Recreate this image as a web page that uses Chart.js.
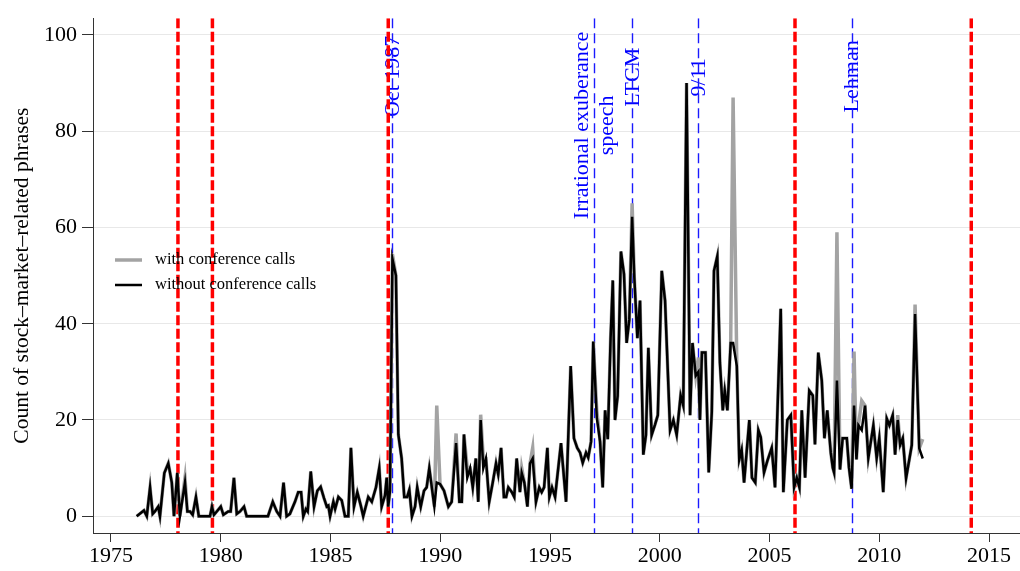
<!DOCTYPE html>
<html><head><meta charset="utf-8">
<script src="https://cdn.jsdelivr.net/npm/chart.js@4.4.1/dist/chart.umd.min.js"></script>
<style>html,body{margin:0;padding:0;background:#fff;}#wrap{width:1020px;height:571px;position:relative;}</style>
</head><body><div id="wrap"><canvas id="c" width="1020" height="571"></canvas></div>
<script>
// FOMC meeting dates (decimal years)
const dates = [
 1976.17,1976.50,1976.63,1976.78,1976.90,1977.00,1977.15,1977.23,1977.43,1977.61,1977.77,1977.87,1978.02,1978.14,1978.37,1978.48,1978.60,1978.72,1978.87,
 1979.00,1979.19,1979.51,1979.60,1979.69,1979.82,1980.00,1980.12,1980.34,1980.45,1980.60,1980.73,1980.88,1981.06,1981.18,1981.42,1981.79,1982.15,1982.37,1982.55,1982.70,1982.86,
 1983.00,1983.15,1983.38,1983.53,1983.66,1983.76,1983.88,1983.96,1984.10,1984.25,1984.40,1984.55,1984.70,1984.83,1984.90,1984.98,1985.13,1985.21,1985.36,1985.51,1985.66,1985.81,1985.93,
 1986.07,1986.22,1986.38,1986.49,1986.72,1986.88,1987.07,1987.22,1987.33,1987.48,1987.56,1987.63,1987.71,1987.82,1987.98,1988.09,1988.24,1988.36,1988.49,1988.59,1988.71,1988.85,1988.95,
 1989.11,1989.26,1989.38,1989.50,1989.73,1989.84,1989.99,1990.17,1990.37,1990.52,1990.72,1990.87,1990.98,1991.08,1991.23,1991.36,1991.48,1991.62,1991.73,1991.84,1991.96,
 1992.08,1992.23,1992.39,1992.54,1992.64,1992.77,1992.90,1993.00,1993.10,1993.26,1993.37,1993.48,1993.63,1993.71,1993.83,1993.97,1994.09,1994.21,1994.36,1994.51,1994.62,1994.73,1994.88,1994.97,
 1995.09,1995.23,1995.50,1995.73,1995.94,1996.09,1996.24,1996.37,1996.49,1996.64,1996.74,1996.87,1996.97,1997.13,1997.28,1997.40,1997.51,1997.63,1997.76,1997.86,1997.96,
 1998.08,1998.23,1998.37,1998.49,1998.61,1998.74,1998.84,1998.98,1999.10,1999.25,1999.37,1999.48,1999.63,1999.78,1999.91,2000.09,2000.24,2000.47,2000.62,2000.77,2000.95,
 2001.07,2001.22,2001.38,2001.49,2001.64,2001.76,2001.83,2001.92,2002.08,2002.23,2002.37,2002.47,2002.62,2002.74,2002.87,2002.96,2003.08,2003.23,2003.34,2003.51,2003.62,2003.73,2003.84,2003.96,
 2004.08,2004.20,2004.35,2004.49,2004.60,2004.75,2004.90,2005.10,2005.25,2005.51,2005.63,2005.81,2005.97,2006.12,2006.24,2006.36,2006.47,2006.62,2006.81,2006.97,
 2007.07,2007.22,2007.38,2007.50,2007.63,2007.79,2007.88,2007.94,2008.07,2008.21,2008.33,2008.52,2008.62,2008.74,2008.85,2008.96,2009.05,2009.20,2009.35,2009.50,2009.73,2009.88,
 2010.00,2010.18,2010.34,2010.46,2010.61,2010.72,2010.84,2010.95,2011.07,2011.22,2011.48,2011.63,2011.82,2011.98
];
const withoutCalls = [
 0,1.2,0,6,0.5,1,2,0,9,11,7,0,9,0,7,1,1,0.3,4,
 0,0,0,2,0.3,1,2,0.3,1,1,8,0.5,1,2,0,0,0,0,3,1,0,7,
 0,0.5,3,5,5,0,1.5,1,9.3,2,5.3,6.1,3.8,2,2.2,0,3,1.5,4,3.3,0,0,14.2,
 2,5,2.2,0,4,3,6,10,2,4.3,8,2,5.3,53.5,50,17,12,4,4,5.5,0,2,6,
 2,5.3,6,10,2,7,6.7,5.3,2,3,15.2,3,3,17,8,10,6,12,3,20,10,
 12,3,7,11,8.7,14.2,4,4,6,5,4,12,5,9,7,2,11,12,3,6,5,6,14.2,4,
 6,4,15.2,3,31.2,16.2,14.2,13.2,11.1,13.2,12.2,15.5,36.3,20.5,15.5,6,22,16,37,49,20,
 25,55,50.3,36,40.8,62.2,49.6,37,44.8,12.8,16.9,35,16.9,19,21,51,44.8,17.9,20,16.9,25.1,
 23,90,21,36,29.2,30,20,34,34,9.1,21.7,51,54,31.9,22,26.1,22,36,36,31.2,11.8,13.8,7,13.5,
 20,8,7,17.9,16.4,9.1,11.5,14.2,6,43.1,5,20,21,6,8,6,22,8,26.1,25.1,
 14.9,34,28.2,16.2,22,13.2,10.1,9.1,28.2,9.7,16.2,16.2,10.1,5.7,23,11.8,18.9,17.9,23,12.1,18.9,12.1,
 16.2,5,20.3,18.9,21,12.8,20,14.8,16.2,7.9,14.8,42,14.1,12
];
const withCalls = [
 0,1.2,0,6,0.5,1,2,0,9,11,7,0,9,0,8,1,1,0.3,4,
 0,0,0,2,0.3,1,2,0.3,1,1,8,0.5,1,2,0,0,0,0,3,1,0,7,
 0,0.5,3,5,5,0,1.5,1,9.3,2,5.3,6.1,3.8,2,2.2,0,3,1.5,4,3.3,0,0,14.2,
 2,5,2.2,0,4,3,6,10,2,4.3,8,2,5.3,54.5,50,17,12,4,4,5.5,0,2,6,
 2,5.3,6,10,2,23,6.7,5.3,2,3,17.2,3,3,17,10,10,6,12,3,21.1,12,
 12,3,7,11,8.7,14.2,4,4,6,5,4,12,5,10,7,2,11,14.2,3,6,5,6,14.2,4,
 6,4,15.2,3,31.2,16.2,14.2,13.2,11.1,13.2,12.2,15.5,36.3,22,15.5,6,22,16,37,49,20,
 25,55,50.3,36,40.8,65,49.6,37,44.8,12.8,16.9,35,16.9,19,21,51,44.8,17.9,20,16.9,25.1,
 23,90,21,36,29.2,33,20,34,34,9.1,21.7,51,54,31.9,22,26.1,22,36,87,31.2,11.8,13.8,7,13.5,
 20,8,7,17.9,16.4,9.1,11.5,14.2,6,43.1,5,20,21,6,8,6,22,8,26.1,25.1,
 14.9,34,28.2,16.2,22,13.2,10.1,9.1,59,9.7,16.2,16.2,10.1,5.7,34.2,11.8,18.9,24,23,12.1,18.9,12.1,
 16.2,5,20.3,18.9,21,12.8,21,14.8,16.2,7.9,14.8,44,14.1,16
];
const xTicks = [1975,1980,1985,1990,1995,2000,2005,2010,2015];
const yTicks = [0,20,40,60,80,100];
const chairDates = [1978.05,1979.62,1987.63,2006.16,2014.19];
const eventDates = [1987.82,1996.99,1998.74,2001.74,2008.74];
const eventLabels = [['Oct 1987'],['Irrational exuberance','speech'],['LTCM'],['9/11'],['Lehman']];
const eventLabelY = [91.4,81.2,91.2,91.2,91.4];
const seriesNames = ['with conference calls','without conference calls'];
const yTitle = 'Count of stock\u2013market\u2013related phrases';

const SERIF = '"Liberation Serif","Times New Roman",serif';
const colGray = '#a3a3a3', colBlack = '#000000';

const eventPlugin = {
  id: 'events',
  beforeDatasetsDraw(chart) {
    const {ctx, chartArea, scales: {x, y}} = chart;
    ctx.save();
    ctx.beginPath();
    ctx.rect(chartArea.left, chartArea.top, chartArea.right - chartArea.left, chartArea.bottom - chartArea.top);
    ctx.clip();
    ctx.font = '22px ' + SERIF;
    ctx.fillStyle = '#0000ff';
    ctx.textAlign = 'center';
    ctx.textBaseline = 'middle';
    eventDates.forEach((d, i) => {
      const px = x.getPixelForValue(d), py = y.getPixelForValue(eventLabelY[i]);
      const lines = eventLabels[i];
      ctx.save();
      ctx.translate(px + 1, py);
      ctx.rotate(-Math.PI / 2);
      lines.forEach((t, j) => ctx.fillText(t, 0, (j - (lines.length - 1) / 2) * 25));
      ctx.restore();
    });
    ctx.strokeStyle = '#1a1aff';
    ctx.lineWidth = 1.4;
    ctx.setLineDash([10, 5]);
    eventDates.forEach(d => {
      const px = Math.round(x.getPixelForValue(d)) + 0.5;
      ctx.beginPath(); ctx.moveTo(px, chartArea.top); ctx.lineTo(px, chartArea.bottom); ctx.stroke();
    });
    ctx.strokeStyle = '#ff0000';
    ctx.lineWidth = 3.5;
    ctx.setLineDash([10, 3.5]);
    chairDates.forEach(d => {
      const px = x.getPixelForValue(d);
      ctx.beginPath(); ctx.moveTo(px, chartArea.top); ctx.lineTo(px, chartArea.bottom); ctx.stroke();
    });
    ctx.restore();
  },
  afterDatasetsDraw(chart) {
    const {ctx} = chart;
    ctx.save();
    const items = [{c: colGray, w: 3.5, t: seriesNames[0], y: 260}, {c: colBlack, w: 2.5, t: seriesNames[1], y: 285}];
    ctx.font = '16.5px ' + SERIF;
    ctx.textBaseline = 'middle';
    ctx.textAlign = 'left';
    items.forEach(it => {
      ctx.strokeStyle = it.c; ctx.lineWidth = it.w;
      ctx.beginPath(); ctx.moveTo(115, it.y); ctx.lineTo(142, it.y); ctx.stroke();
      ctx.fillStyle = '#000';
      ctx.fillText(it.t, 155, it.y);
    });
    ctx.restore();
  }
};

const toXY = arr => dates.map((d, i) => ({x: d, y: arr[i]}));

new Chart(document.getElementById('c'), {
  type: 'line',
  data: {
    datasets: [
      {label: seriesNames[0], data: toXY(withCalls), borderColor: colGray, borderWidth: 3.5, pointRadius: 0, tension: 0, order: 2, fill: false},
      {label: seriesNames[1], data: toXY(withoutCalls), borderColor: colBlack, borderWidth: 2.5, pointRadius: 0, tension: 0, order: 1, fill: false}
    ]
  },
  options: {
    responsive: false,
    animation: false,
    devicePixelRatio: 1,
    layout: {padding: {top: 10, right: 0, left: 0, bottom: 0}},
    plugins: {legend: {display: false}, tooltip: {enabled: false}},
    scales: {
      x: {
        type: 'linear', min: 1974.18, max: 2016.41,
        afterBuildTicks: s => { s.ticks = xTicks.map(v => ({value: v})); },
        afterFit: s => { s.height = 38; },
        grid: {drawOnChartArea: false, drawTicks: true, tickLength: 9, tickColor: '#333'},
        border: {display: true, color: '#333', width: 1},
        ticks: {callback: v => String(v), color: '#000', font: {family: SERIF, size: 22}, padding: 1, maxRotation: 0, autoSkip: false}
      },
      y: {
        type: 'linear', min: -3.48, max: 103.48,
        afterBuildTicks: s => { s.ticks = yTicks.map(v => ({value: v})); },
        afterFit: s => { s.width = 93; },
        grid: {color: '#e8e8e8', lineWidth: 1, drawTicks: true, tickLength: 11, tickColor: '#333'},
        border: {display: true, color: '#333', width: 1},
        ticks: {callback: v => String(v), color: '#000', font: {family: SERIF, size: 22}, padding: 5},
        title: {display: true, text: yTitle, color: '#000', font: {family: SERIF, size: 21.5}, padding: {top: 9, bottom: 0}}
      }
    }
  },
  plugins: [eventPlugin]
});
</script>
</body></html>
